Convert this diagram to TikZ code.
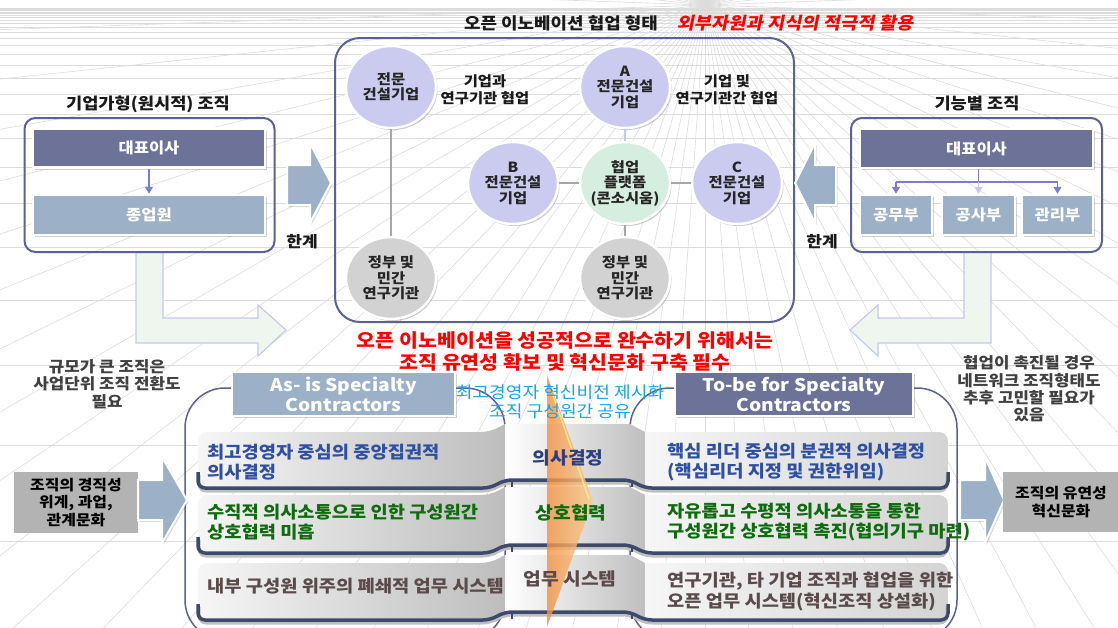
\documentclass[tikz,border=0pt]{standalone}
\usepackage{fontspec}
\setmainfont{Noto Sans CJK KR}[FakeStretch=1.1]
\newfontfamily\slkr[FakeSlant=0.2,FakeStretch=1.1]{Noto Sans CJK KR}
\usetikzlibrary{shapes.geometric,shadows,arrows.meta,calc}
\definecolor{navy}{HTML}{6D7299}
\definecolor{steel}{HTML}{9CB0C8}
\definecolor{frame}{HTML}{5B6190}
\definecolor{lav}{HTML}{CBCBF0}
\definecolor{mint}{HTML}{D6EEDF}
\definecolor{gbub}{HTML}{D2D2D2}
\definecolor{lgreen}{HTML}{EEF6EE}
\definecolor{lline}{HTML}{C5C8F0}
\definecolor{arrowp}{HTML}{7B7BD8}
\definecolor{cyanT}{HTML}{1DA1E2}
\definecolor{blueT}{HTML}{2F4FA0}
\definecolor{navyT}{HTML}{2E3F80}
\definecolor{greenT}{HTML}{0E6B0E}
\definecolor{brownT}{HTML}{5A4A4A}
\definecolor{edgeC}{HTML}{3D4A6B}
\definecolor{gridc}{HTML}{DCDCDC}
\definecolor{greybox}{HTML}{B3B3B3}
\definecolor{orgL}{HTML}{F29140}
\definecolor{orgR}{HTML}{FBCB8E}
\definecolor{rowA}{HTML}{F6F6F6}
\definecolor{rowM}{HTML}{E7E7E7}
\definecolor{rowB}{HTML}{BDBDBD}
\newcommand\fsz[2]{\fontsize{#1}{#2}\selectfont}
\newcommand\rowband[2]{%
  \shade[left color=rowA, middle color=rowM, right color=rowB]
    (505,{#1-8}) -- (505,{#2-8}) -- (490,#2) [rounded corners=9]-- (198,#2) -- (198,#1) -- (490,#1) [sharp corners]-- cycle;
  \shade[left color=white, middle color=rowA, right color=black!25]
    (505,{#1-8}) -- (630,{#1-8}) -- (645,#1) -- (645,#2) -- (630,{#2-8}) -- (505,{#2-8}) -- cycle;
  \shade[left color=rowA, middle color=rowA, right color=black!17]
    (645,#1) [rounded corners=9]-- (948,#1) -- (948,#2) [sharp corners]-- (645,#2) -- cycle;
  \draw[black!25, line width=3, rounded corners=7] (199,{#2-13}) -- (199,{#2+3}) -- (490,{#2+3}) -- (505,{#2-5}) -- (630,{#2-5}) -- (645,{#2+3}) -- (947,{#2+3}) -- (947,{#2-13});
  \draw[edgeC, line width=3.5, rounded corners=7] (198,{#2-16}) -- (198,#2) -- (490,#2) -- (505,{#2-8}) -- (630,{#2-8}) -- (645,#2) -- (948,#2) -- (948,{#2-16});
  \draw[edgeC, line width=1.5] (512,{#2-8}) -- (512,{#2-1}) (632,{#2-8}) -- (632,{#2-1});
}
\begin{document}
\begin{tikzpicture}[x=1pt,y=-1pt,
  bub/.style={ellipse, minimum width=90, minimum height=82, inner sep=-4pt, draw=white, line width=2.5, fill=lav,
    drop shadow={shadow xshift=1.5pt, shadow yshift=-2pt, opacity=.35, fill=black!60},
    align=center, font=\bfseries\fsz{14}{15.5}, text=black!85},
  cline/.style={draw=black!35, line width=1.2},
  lab/.style={font=\bfseries\fsz{14}{17}, align=center, text=black!90},
  ttl/.style={font=\bfseries\fsz{16}{19}, text=black!90},
  orgframe/.style={rectangle, draw=frame, line width=2, rounded corners=11},
  navybox/.style={rectangle, fill=navy, draw=white, line width=2.5, inner sep=0,
    drop shadow={shadow xshift=1.5pt, shadow yshift=-2pt, opacity=.3, fill=black!60},
    text=white, font=\bfseries\fsz{15}{18}},
  steelbox/.style={navybox, fill=steel},
  orgline/.style={draw=arrowp, line width=1.3},
  orgarr/.style={orgline, -{Triangle[length=7,width=8]}},
  blockarr/.style={fill=steel, draw=white, line width=2, line join=miter,
    drop shadow={shadow xshift=1.5pt, shadow yshift=-2pt, opacity=.25, fill=black!60}},
  larr/.style={fill=lgreen, draw=lline, line width=1.2},
  bcont/.style={rectangle, draw=frame, line width=1.5, rounded corners=40},
  redT/.style={font=\bfseries\fsz{18.7}{22}, text=red},
  side/.style={font=\bfseries\fsz{15.3}{17.3}, text=black!75, align=center},
  gbox/.style={rectangle, fill=greybox, inner sep=0, align=center, font=\bfseries\fsz{14.5}{17.5}, text=black},
  rowT/.style={anchor=west, align=left, inner sep=0, font=\bfseries\fsz{17}{20}},
  midT/.style={inner sep=0, font=\bfseries\fsz{17.5}{20}}
]
\useasboundingbox (0,0) rectangle (1118,627);
\fill[white] (0,0) rectangle (1118,627);
% background perspective grid
\begin{scope}
  \clip (0,0) rectangle (1118,627);
  \foreach \a in {2,6,...,358} \draw[gridc, line width=0.6] (705,5) -- ++(\a:1500);
  \foreach \k in {1,...,28} \draw[gridc, line width=0.5] (0,{5+2.5*1.22^\k}) -- (1118,{5+2.5*1.22^\k});
\end{scope}

% light L-shaped arrows
\path[larr] (136,252) -- (163,252) -- (163,318) -- (258,318) -- (258,305) -- (286,330) -- (258,356) -- (258,343) -- (136,343) -- cycle;
\path[larr] (964,252) -- (991,252) -- (991,343) -- (878,343) -- (878,356) -- (850,330) -- (878,305) -- (878,318) -- (964,318) -- cycle;

% top title
\node[font=\bfseries\fsz{16.3}{19}, text=black!90] (ctitle) at (561,23) {오픈 이노베이션 협업 형태};
\node[font=\slkr\bfseries\fsz{17}{20}, text=red] (ctag) at (795,23) {외부자원과 지식의 적극적 활용};

% central container
\node[rectangle, draw=frame, line width=2, rounded corners=25, minimum width=459, minimum height=284] (cbox) at (564.5,180) {};

% bubbles
\node[bub] (b1) at (391,87) {전문\\건설기업};
\node[bub] (bA) at (625,87) {A\\전문건설\\기업};
\node[bub] (bB) at (513,183) {B\\전문건설\\기업};
\node[bub, fill=mint] (bP) at (625,183) {협업\\플랫폼\\(콘소시움)};
\node[bub] (bC) at (737,183) {C\\전문건설\\기업};
\node[bub, fill=gbub] (g1) at (391,278) {정부 및\\민간\\연구기관};
\node[bub, fill=gbub] (g2) at (625,278) {정부 및\\민간\\연구기관};
\draw[cline] (b1) -- (g1);
\draw[cline, draw=lline] (bA) -- (bP);
\draw[cline] (bB) -- (bP);
\draw[cline] (bP) -- (bC);
\draw[cline] (bP) -- (g2);
\node[lab] (t1) at (485,90) {기업과\\연구기관 협업};
\node[lab] (t2) at (727,90) {기업 및\\연구기관간 협업};

% left organisation
\node[ttl] (ltitle) at (148,104) {기업가형(원시적) 조직};
\node[orgframe, minimum width=250, minimum height=134] (lbox) at (149.5,185) {};
\node[navybox, minimum width=232, minimum height=39] (lceo) at (149,148) {대표이사};
\node[steelbox, minimum width=232, minimum height=40] (lemp) at (149,215) {종업원};
\draw[orgarr] (lceo) -- (lemp);

% right organisation
\node[ttl] (rtitle) at (977,104) {기능별 조직};
\node[orgframe, minimum width=251, minimum height=134] (rbox) at (976.5,185) {};
\node[navybox, minimum width=233, minimum height=39] (rceo) at (976.5,148.5) {대표이사};
\node[steelbox, minimum width=72, minimum height=40] (rd1) at (896,215) {공무부};
\node[steelbox, minimum width=73, minimum height=40] (rd2) at (978.5,215) {공사부};
\node[steelbox, minimum width=71, minimum height=40] (rd3) at (1057.5,215) {관리부};
\coordinate (rj) at (978.5,182);
\coordinate (rjl) at (896,182);
\coordinate (rjr) at (1057.5,182);
\draw[orgline] (rceo.south -| rj) -- (rj);
\draw[orgline] (rjl) -- (rjr);
\draw[orgarr] (rjl) -- (rd1);
\draw[orgarr, draw=lline] (rj) -- (rd2);
\draw[orgarr] (rjr) -- (rd3);

% grey-blue block arrows (limits)
\path[blockarr] (287,165) -- (310,165) -- (310,143) -- (331,183) -- (310,223) -- (310,205) -- (287,205) -- cycle;
\path[blockarr] (836,165) -- (815,165) -- (815,143) -- (795,183) -- (815,223) -- (815,205) -- (836,205) -- cycle;
\node[font=\bfseries\fsz{15.5}{18}, text=black!90] (lim1) at (302,242) {한계};
\node[font=\bfseries\fsz{15.5}{18}, text=black!90] (lim2) at (822,242) {한계};

% red message
\node[redT] (msg1) at (565,340) {오픈 이노베이션을 성공적으로 완수하기 위해서는};
\node[redT] (msg2) at (565,362) {조직 유연성 확보 및 혁신문화 구축 필수};

% side notes
\node[side] (sl) at (107,384) {규모가 큰 조직은\\사업단위 조직 전환도\\필요};
\node[side] (sr) at (1029,389) {협업이 촉진될 경우\\네트워크 조직형태도\\추후 고민할 필요가\\있음};

% bottom containers
\node[bcont, minimum width=320, minimum height=252] (asC) at (345,514) {};
\node[bcont, minimum width=327, minimum height=252] (tbC) at (793.5,514) {};

% rows
\rowband{432}{488}
\rowband{495}{553}
\rowband{563}{620}

% orange arrow
\shade[left color=orgL, right color=orgR, fill opacity=.8] (547,375) -- (593,501) -- (547,627) -- cycle;
\draw[yellow!40!white, line width=1.5, opacity=.7] (553,395) -- (589,499);

% as-is / to-be headers
\node[steelbox, minimum width=223, minimum height=44, align=center, font=\bfseries\fsz{17.5}{20}] (asis) at (343.5,394) {As- is Specialty\\Contractors};
\node[navybox, minimum width=238, minimum height=44, align=center, font=\bfseries\fsz{17.5}{20}] (tobe) at (794,394) {To-be for Specialty\\Contractors};
\node[font=\fsz{16.5}{19}, text=cyanT, align=center] (vis) at (560,402) {최고경영자 혁신비전 제시화\\조직 구성원간 공유};

% side arrows and boxes
\node[gbox, minimum width=124, minimum height=61] (stiff) at (76,502.5) {조직의 경직성\\위계, 과업,\\관계문화};
\path[blockarr] (138,480) -- (162,480) -- (162,457) -- (187,500) -- (162,543) -- (162,520) -- (138,520) -- cycle;
\path[blockarr] (960,480) -- (985,480) -- (985,457) -- (1004,500) -- (985,543) -- (985,520) -- (960,520) -- cycle;
\node[gbox, minimum width=116, minimum height=60] (flex) at (1061,502) {조직의 유연성\\혁신문화};

% row texts
\node[rowT, text=blueT] (a1) at (207,462) {최고경영자 중심의 중앙집권적\\의사결정};
\node[rowT, text=greenT] (a2) at (207,522) {수직적 의사소통으로 인한 구성원간\\상호협력 미흡};
\node[rowT, text=brownT] (a3) at (207,586) {내부 구성원 위주의 폐쇄적 업무 시스템};
\node[midT, text=navyT] (c1) at (568,458) {의사결정};
\node[midT, text=greenT] (c2) at (571,513) {상호협력};
\node[midT, text=brownT] (c3) at (570,579) {업무 시스템};
\node[rowT, text=blueT] (d1) at (667,462) {핵심 리더 중심의 분권적 의사결정\\(핵심리더 지정 및 권한위임)};
\node[rowT, text=greenT] (d2) at (667,522) {자유롭고 수평적 의사소통을 통한\\구성원간 상호협력 촉진(협의기구 마련)};
\node[rowT, text=brownT, font=\bfseries\fsz{17}{21}] (d3) at (667,591) {연구기관, 타 기업 조직과 협업을 위한\\오픈 업무 시스템(혁신조직 상설화)};
\end{tikzpicture}
\end{document}
